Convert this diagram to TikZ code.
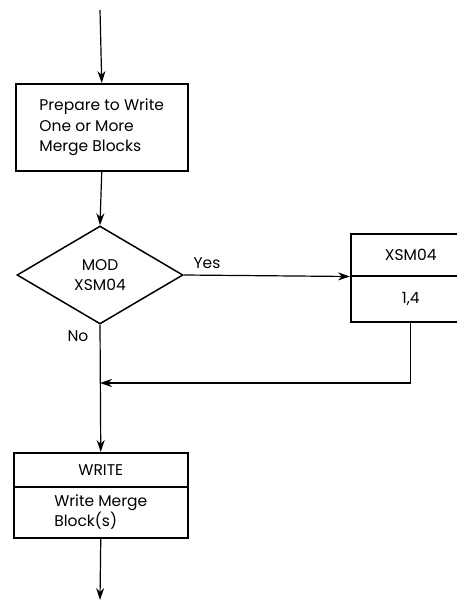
\documentclass[tikz,border=0pt]{standalone}
\usepackage{fontspec}
\setmainfont{Poppins}
\usetikzlibrary{shapes.geometric,arrows.meta}
\begin{document}
\begin{tikzpicture}[x=1pt,y=-1pt,
  font=\fontsize{15.5}{20.5}\selectfont,
  box/.style={draw,line width=1.5pt,inner sep=0pt,anchor=north west},
  flow/.style={line width=1.2pt},
  arr/.style={flow,-{Stealth[length=12pt,width=8pt]}},
  lbl/.style={inner sep=0pt}]
\useasboundingbox (0,0) rectangle (457,602);
\coordinate (start) at (100,10);
\node[box,minimum width=172pt,minimum height=87pt,align=left] (prep) at (15,83)
  {Prepare to Write\\One or More\\Merge Blocks};
\node[draw,diamond,minimum width=166pt,minimum height=98pt,inner sep=0pt,
  line width=1.5pt,align=center] (dec) at (100,275) {MOD\\XSM04};
\node[box,minimum width=120pt,minimum height=42pt] (xtop) at (350,233) {XSM04};
\node[box,minimum width=120pt,minimum height=46pt] (xbot) at (350,275) {1,4};
\node[box,minimum width=174pt,minimum height=34pt] (wtop) at (13,452) {WRITE};
\node[box,minimum width=174pt,minimum height=51pt,align=left] (wbot) at (13,486)
  {Write Merge\\Block(s)};
\node[lbl] (yes) at (207,263) {Yes};
\node[lbl] (no) at (78,336) {No};
\coordinate (join) at (100,383);
\coordinate (end) at (100,600);
\draw[arr] (start) -- (prep.north);
\draw[arr] (prep.south) -- (dec.north);
\draw[arr] (dec.east) -- (xtop.south west);
\draw[arr] (xbot.south) |- (join);
\draw[arr] (dec.south) -- (wtop.north);
\draw[arr] (wbot.south) -- (end);
\end{tikzpicture}
\end{document}
